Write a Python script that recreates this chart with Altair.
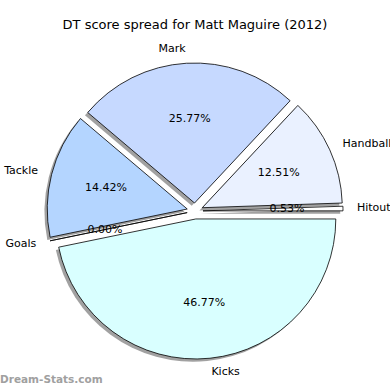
import altair as alt
import pandas as pd

# Data (clockwise from 3 o'clock)
categories = ["Kicks", "Goals", "Tackle", "Mark", "Handball", "Hitout"]
percents = [46.77, 0.00, 14.42, 25.77, 12.51, 0.53]
colors = ["#d9ffff", "#e0e0ff", "#b4d5ff", "#c6d9ff", "#eaf1ff", "#ffffff"]
order = list(range(len(categories)))

df = pd.DataFrame({"category": categories, "value": percents, "color": colors, "order": order})

CX, CY, R, EXP = 195, 211, 140, 8

base = alt.Chart(df).transform_window(
    cum="sum(value)", sort=[alt.SortField("order")], frame=[None, 0]
).transform_joinaggregate(
    total="sum(value)"
).transform_calculate(
    t0=f"PI/2 + 2*PI*(datum.cum - datum.value)/datum.total",
    t1=f"PI/2 + 2*PI*datum.cum/datum.total",
).transform_calculate(
    mid="(datum.t0 + datum.t1)/2"
).transform_calculate(
    cx=f"{CX} + {EXP}*sin(datum.mid)",
    cy=f"{CY} - {EXP}*cos(datum.mid)",
    pct="format(datum.value/datum.total*100, '.2f') + '%'",
).transform_calculate(
    sx="datum.cx - 2.8",
    sy="datum.cy + 2.8",
    px=f"datum.cx + {0.6*R}*sin(datum.mid)",
    py=f"datum.cy - {0.6*R}*cos(datum.mid)",
    lx=f"datum.cx + {1.1*R}*sin(datum.mid)",
    ly=f"datum.cy - {1.1*R}*cos(datum.mid)",
    side="sin(datum.mid) > 0 ? 1 : 0",
)

shadow = base.mark_arc(outerRadius=R, color="#444444", opacity=0.5).encode(
    x=alt.X("sx:Q", scale=None),
    y=alt.Y("sy:Q", scale=None),
    theta=alt.Theta("t0:Q", scale=None),
    theta2="t1:Q",
)

wedges = base.mark_arc(outerRadius=R, stroke="black", strokeWidth=0.8).encode(
    x=alt.X("cx:Q", scale=None),
    y=alt.Y("cy:Q", scale=None),
    theta=alt.Theta("t0:Q", scale=None),
    theta2="t1:Q",
    fill=alt.Fill("color:N", scale=None),
)

pct = base.mark_text(font="DejaVu Sans", fontSize=11, color="black", align="center", baseline="middle").encode(
    x=alt.X("px:Q", scale=None),
    y=alt.Y("py:Q", scale=None),
    text="pct:N",
)

lab_r = base.transform_filter("datum.side == 1").mark_text(
    font="DejaVu Sans", fontSize=11, color="black", align="left", baseline="middle"
).encode(x=alt.X("lx:Q", scale=None), y=alt.Y("ly:Q", scale=None), text="category:N")

lab_l = base.transform_filter("datum.side == 0").mark_text(
    font="DejaVu Sans", fontSize=11, color="black", align="right", baseline="middle"
).encode(x=alt.X("lx:Q", scale=None), y=alt.Y("ly:Q", scale=None), text="category:N")

title = alt.Chart(pd.DataFrame({"t": ["DT score spread for Matt Maguire (2012)"]})).mark_text(
    font="DejaVu Sans", fontSize=13, color="black", align="center", baseline="middle"
).encode(x=alt.value(195), y=alt.value(25), text="t:N")

wm = alt.Chart(pd.DataFrame({"t": ["Dream-Stats.com"]})).mark_text(
    font="DejaVu Sans", fontSize=10.5, fontWeight="bold", color="#a0a0a0", align="left", baseline="middle"
).encode(x=alt.value(0), y=alt.value(380), text="t:N")

chart = alt.layer(shadow, wedges, pct, lab_r, lab_l, title, wm).properties(
    width=390, height=390, padding=0, autosize="none", background="white"
).configure_view(stroke=None)

chart.save("out.html", embed_options={"renderer": "svg", "actions": False})
